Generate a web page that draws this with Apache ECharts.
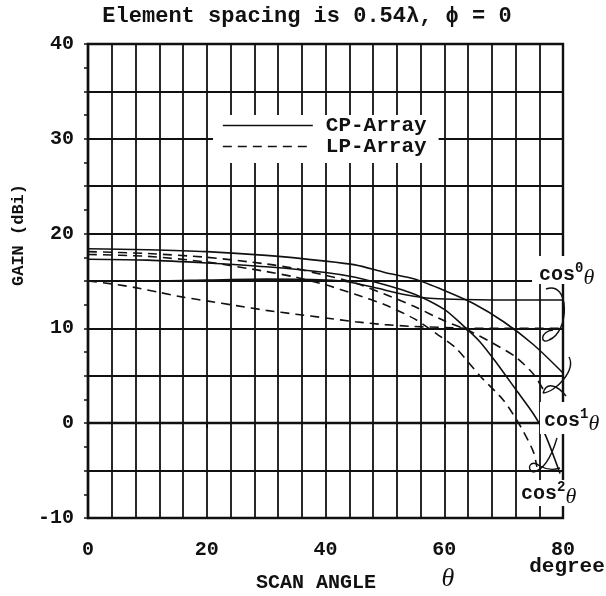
<!DOCTYPE html>
<html><head><meta charset="utf-8">
<script src="https://cdn.jsdelivr.net/npm/echarts@6/dist/echarts.min.js"></script>
<style>html,body{margin:0;padding:0;background:#fff}#c{width:606px;height:596px}</style>
</head><body><div id="c"></div>
<script>
// ---- data (theta in degrees, gain in dBi) ----
const xLabelValues = [0, 20, 40, 60, 80];
const yLabelValues = [-10, 0, 10, 20, 30, 40];

const cpCos0 = [[0,15.0],[10,15.0],[20,15.1],[30,15.2],[40,15.1],[44,14.9],[49,14.2],[53,13.6],[57,13.2],[60,13.1],[70,13.0],[80,13.0]];
const cpCos1 = [[0,18.4],[10,18.3],[20,18.1],[30,17.7],[40,17.1],[45,16.7],[50,15.9],[55,15.2],[60,14.0],[65,12.6],[70,10.7],[75,8.3],[80,5.3]];
const cpCos2 = [[0,17.3],[10,17.2],[20,16.9],[30,16.5],[40,15.9],[45,15.4],[50,14.6],[55,13.6],[60,12.0],[63,10.4],[66,8.6],[69,6.2],[72,3.6],[75,1.0],[77,-1.2],[79.5,-5.3]];
const lpCos0 = [[0,15.0],[4,14.7],[8,14.3],[12,13.8],[16,13.3],[20,12.9],[25,12.4],[30,11.9],[35,11.5],[40,11.1],[45,10.7],[50,10.4],[55,10.2],[60,10.1],[65,10.0],[80,10.0]];
const lpCos1 = [[0,18.1],[10,17.9],[20,17.5],[30,16.8],[35,16.3],[40,15.6],[45,14.8],[50,13.6],[55,12.3],[60,10.8],[64,9.8],[68,8.5],[72,7.0],[75,5.2],[77,3.2]];
const lpCos2 = [[0,17.8],[10,17.6],[20,17.0],[30,16.0],[35,15.4],[40,14.6],[45,13.6],[50,12.5],[55,11.0],[59,9.3],[62,7.9],[66,5.0],[70,2.4],[73,-0.5],[75,-3.0],[75.6,-4.6]];

const seriesNames = ['CP-Array', 'LP-Array'];

const MONO = '"Liberation Mono", "Courier New", monospace';
const SERIF = '"Liberation Serif", "Times New Roman", serif';
const INK = '#111';

const chart = echarts.init(document.getElementById('c'), null, {renderer: 'canvas'});

function mk(name, data, dashed) {
  return {
    name: name, type: 'line', data: data, symbol: 'none', smooth: 0.25,
    lineStyle: {color: INK, width: 1.6, type: dashed ? [9, 6] : 'solid'},
    itemStyle: {color: INK}, z: 3, animation: false
  };
}

function bez(x1,y1,cpx1,cpy1,cpx2,cpy2,x2,y2){
  return {type:'bezierCurve', z: 120, shape:{x1,y1,cpx1,cpy1,cpx2,cpy2,x2,y2}, style:{stroke:INK, lineWidth:1.4, fill:null}};
}

function cosLabel(x, y, sup, boxX, boxY, boxW, boxH) {
  return [
    {type:'rect', z: 100, shape:{x:boxX, y:boxY, width:boxW, height:boxH}, style:{fill:'#fff'}},
    {type:'text', z: 110, x: x, y: y, style:{
      text: '{a|cos}{s|' + sup + '}{t|θ}', textVerticalAlign: 'middle',
      rich: {
        a: {fontFamily: MONO, fontWeight: 'bold', fontSize: 20, fill: INK, color: INK},
        s: {fontFamily: MONO, fontWeight: 'bold', fontSize: 14, fill: INK, color: INK, verticalAlign: 'top', padding:[0,0,10,0]},
        t: {fontFamily: SERIF, fontStyle: 'italic', fontSize: 22, fill: INK, color: INK, padding:[6,0,0,0]}
      }
    }}
  ];
}

const option = {
  animation: false,
  backgroundColor: '#fff',
  grid: {left: 88, right: 43, top: 44, bottom: 78, show: true, borderColor: INK, borderWidth: 2.4, backgroundColor: 'transparent'},
  legend: {
    show: true,
    data: seriesNames, left: 213, top: 115, orient: 'vertical',
    backgroundColor: '#fff', padding: [0, 12, 6, 9], itemGap: 0,
    itemWidth: 90, itemHeight: 14,
    itemStyle: {opacity: 0},
    lineStyle: {opacity: 1, width: 1.6},
    textStyle: {fontFamily: MONO, fontWeight: 'bold', fontSize: 21, color: INK, padding: [0,0,0,8]},
    z: 50
  },
  xAxis: {
    type: 'value', min: 0, max: 80, interval: 20,
    axisLine: {show: true, lineStyle: {color: INK, width: 2.4}},
    axisTick: {show: true, length: 5, lineStyle: {color: INK, width: 2}},
    minorTick: {show: false, splitNumber: 5},
    axisLabel: {margin: 22, fontFamily: MONO, fontWeight: 'bold', fontSize: 20, color: INK},
    splitLine: {show: true, lineStyle: {color: INK, width: 1.8}},
    minorSplitLine: {show: true, lineStyle: {color: INK, width: 1.8}}
  },
  yAxis: {
    type: 'value', min: -10, max: 40, interval: 5,
    axisLine: {show: true, lineStyle: {color: INK, width: 2.4}},
    axisTick: {show: true, length: 4, lineStyle: {color: INK, width: 1.5}},
    minorTick: {show: true, splitNumber: 2, length: 4, lineStyle: {color: INK, width: 1.5}},
    axisLabel: {customValues: yLabelValues, margin: 14, fontFamily: MONO, fontWeight: 'bold', fontSize: 20, color: INK},
    splitLine: {show: true, lineStyle: {color: INK, width: 1.8}}
  },
  series: [
    mk(seriesNames[0], cpCos0, false),
    mk(seriesNames[0], cpCos1, false),
    mk(seriesNames[0], cpCos2, false),
    mk(seriesNames[1], lpCos0, true),
    mk(seriesNames[1], lpCos1, true),
    mk(seriesNames[1], lpCos2, true)
  ],
  graphic: [
    {type:'text', z: 100, x: 307, y: 16, style:{text:'Element spacing is 0.54λ, ϕ = 0', fontFamily: MONO, fontWeight:'bold', fontSize: 22, fill: INK, textAlign:'center', textVerticalAlign:'middle'}},
    {type:'text', z: 100, x: 19, y: 235, rotation: Math.PI/2, style:{text:'GAIN (dBi)', fontFamily: MONO, fontWeight:'bold', fontSize: 17, fill: INK, textAlign:'center', textVerticalAlign:'middle'}},
    {type:'text', z: 100, x: 316, y: 583, style:{text:'SCAN ANGLE', fontFamily: MONO, fontWeight:'bold', fontSize: 20, fill: INK, textAlign:'center', textVerticalAlign:'middle'}},
    {type:'text', z: 100, x: 448, y: 579, style:{text:'θ', fontFamily: SERIF, fontStyle:'italic', fontSize: 26, fill: INK, textAlign:'center', textVerticalAlign:'middle'}},
    {type:'text', z: 100, x: 567, y: 567, style:{text:'degree', fontFamily: MONO, fontWeight:'bold', fontSize: 21, fill: INK, textAlign:'center', textVerticalAlign:'middle'}},
    ...cosLabel(539, 275, '0', 532, 256, 74, 28),
    ...cosLabel(544, 421, '1', 540, 402, 66, 32),
    ...cosLabel(521, 494, '2', 517, 480, 80, 26),
    bez(546,289, 570,280, 570,332, 549,340),
    bez(549,340, 540,345, 540,331, 553,330),
    bez(569,357, 576,370, 556,392, 543,393),
    bez(543,393, 547,380, 559,387, 566,396),
    bez(557,438, 552,455, 545,470, 533,472),
    bez(533,472, 526,470, 530,458, 540,466),
    bez(540,466, 547,470, 554,470, 560,468)
  ]
};
chart.setOption(option);
</script></body></html>
